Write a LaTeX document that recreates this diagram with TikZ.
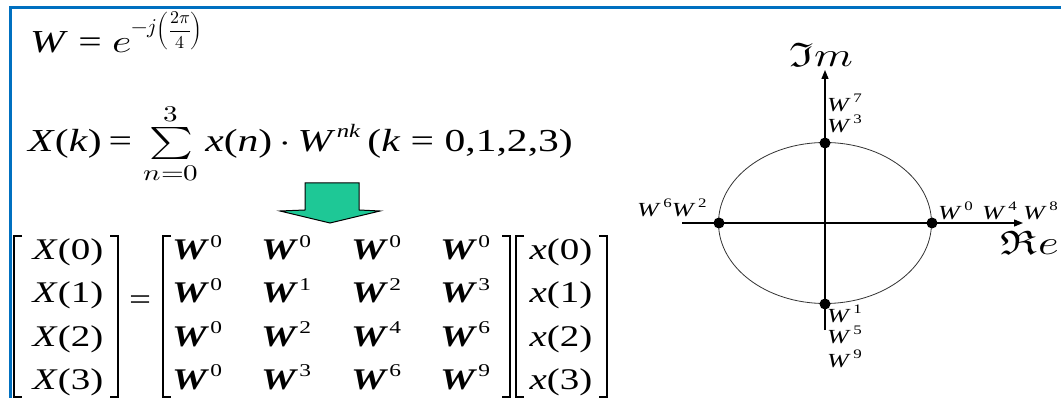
\documentclass[tikz,border=0pt]{standalone}
\usepackage{fontspec}
\usepackage{unicode-math}
\setmainfont{Liberation Serif}
\setmathfont{Latin Modern Math}
\usetikzlibrary{arrows.meta}
\definecolor{frameblue}{RGB}{0,112,192}
\definecolor{arrowgreen}{RGB}{30,200,150}
\newcommand{\hstretch}[1]{\scalebox{1.3}[1]{#1}}
\newcommand{\bW}{\textbf{\textit{W}}}
\newcommand{\mW}[1]{\hstretch{\bW\hspace{1pt}\raisebox{0.42em}{\fontsize{18}{18}\selectfont #1}}}
\newcommand{\lW}[1]{\hstretch{\textit{W}\hspace{2pt}\raisebox{0.45em}{\fontsize{13}{13}\selectfont #1}}}
\begin{document}
\begin{tikzpicture}[x=1pt,y=-1pt,
  big/.style={font=\fontsize{30}{34}\selectfont, inner sep=0pt},
  eqs/.style={font=\fontsize{32}{36}\selectfont, inner sep=0pt, anchor=base west},
  lbl/.style={font=\fontsize{20}{22}\selectfont, inner sep=0pt, anchor=base west},
  brk/.style={line width=1.6pt},
  dot/.style={circle, fill=black, inner sep=0pt, minimum size=11pt},
  axis/.style={line width=1.3pt, -{Triangle[length=9pt,width=7pt]}}]
\useasboundingbox (0,0) rectangle (1061,398);
\fill[white] (0,0) rectangle (1061,398);
\draw[frameblue, line width=3pt] (10,400) -- (10,8) -- (1063,8);
% equations
\node[eqs] (eqW) at (30,53) {\hstretch{\textit{W} = $e$}\raisebox{19pt}{\fontsize{21}{21}\selectfont $-j$}\raisebox{17pt}{\fontsize{18}{18}\selectfont $\left(\genfrac{}{}{}{0}{2\pi}{4}\right)$}};
\node[eqs] (eqX) at (28,152) {\hstretch{\textit{X}(\textit{k})\,=\;$\textstyle\sum\limits_{n=0}^{3}$\,\textit{x}(\textit{n})\,$\cdot$\,\textit{W}\hspace{1pt}\raisebox{0.45em}{\fontsize{19}{19}\selectfont\textit{nk}}\,(\textit{k} = 0,1,2,3)}};
% arrow
\draw[fill=arrowgreen, line width=1pt] (305,183) -- (359,183) -- (359,210) -- (380,211) -- (330,223) -- (280,211) -- (305,210) -- cycle;
% matrix
\foreach \r/\y/\a/\b/\c in {0/260/0/0/0, 1/303/1/2/3, 2/346/2/4/6, 3/389/3/6/9} {
  \node[big, anchor=base] (X\r) at (68,\y) {\hstretch{\textit{X}(\r)}};
  \node[big, anchor=base] (x\r) at (561,\y) {\hstretch{\textit{x}(\r)}};
  \node[big, anchor=base west] (w\r0) at (172,\y) {\mW{0}};
  \node[big, anchor=base west] (w\r1) at (261,\y) {\mW{\a}};
  \node[big, anchor=base west] (w\r2) at (351,\y) {\mW{\b}};
  \node[big, anchor=base west] (w\r3) at (440,\y) {\mW{\c}};
}
\node[big, anchor=base] (eq) at (140,309) {\hstretch{=}};
\draw[brk] (22,236) -- (14,236) -- (14,397) -- (22,397);
\draw[brk] (110,236) -- (118,236) -- (118,397) -- (110,397);
\draw[brk] (171,236) -- (163,236) -- (163,397) -- (171,397);
\draw[brk] (502,236) -- (510,236) -- (510,397) -- (502,397);
\draw[brk] (524,236) -- (516,236) -- (516,397) -- (524,397);
\draw[brk] (599,236) -- (607,236) -- (607,397) -- (599,397);
% complex plane
\coordinate (O) at (825,223);
\coordinate (xl) at (682,223); \coordinate (xr) at (1023,223);
\coordinate (yb) at (825,330); \coordinate (yt) at (825,70);
\draw[line width=0.8pt, black!80] (O) ellipse [x radius=106.5, y radius=80.5];
\draw[axis] (xl) -- (xr);
\draw[axis] (yb) -- (yt);
\node[dot] (p0) at (932,223) {};
\node[dot] (p1) at (825,304) {};
\node[dot] (p2) at (719,223) {};
\node[dot] (p3) at (825,143) {};
\node[font=\fontsize{34}{34}\selectfont, inner sep=0pt] (Im) at (821,55) {\hstretch{$\Im m$}};
\node[font=\fontsize{34}{34}\selectfont, inner sep=0pt] (Re) at (1030,243) {\hstretch{$\Re e$}};
\node[lbl] (l7) at (827,112) {\lW{7}};
\node[lbl] (l3) at (827,133) {\lW{3}};
\node[lbl] (l62) at (637,217) {\lW{6}\lW{2}};
\node[lbl] (l0) at (938,220) {\lW{0}};
\node[lbl] (l4) at (982,220) {\lW{4}};
\node[lbl] (l8) at (1023,220) {\lW{8}};
\node[lbl] (l1) at (827,323) {\lW{1}};
\node[lbl] (l5) at (827,343) {\lW{5}};
\node[lbl] (l9) at (827,367) {\lW{9}};
\end{tikzpicture}
\end{document}
